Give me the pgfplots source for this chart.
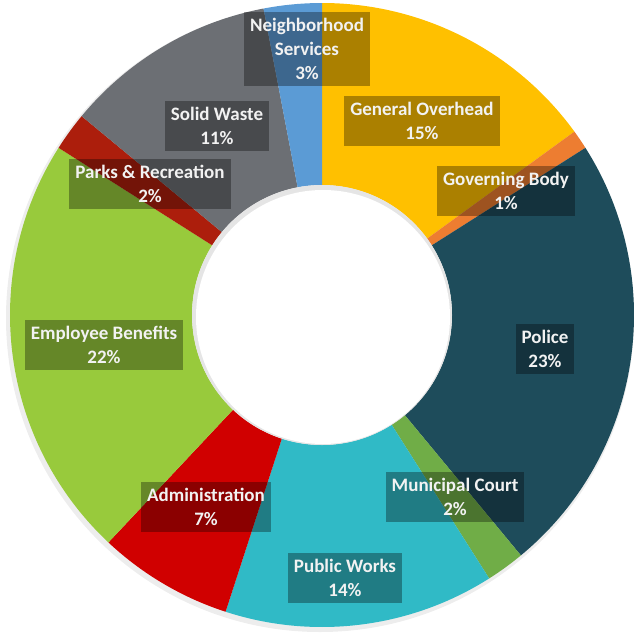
\documentclass[border=0pt]{standalone}
\usepackage{pgfplots}
\pgfplotsset{compat=1.18}
\usepackage{pgfplotstable}
\usepackage{fontspec}
\setmainfont{Carlito}

% slice colours, clockwise from 12 o'clock
\definecolor{slice0}{HTML}{FFC000}
\definecolor{slice1}{HTML}{ED7D31}
\definecolor{slice2}{HTML}{1E4C5B}
\definecolor{slice3}{HTML}{70AD47}
\definecolor{slice4}{HTML}{30BAC6}
\definecolor{slice5}{HTML}{D00000}
\definecolor{slice6}{HTML}{98CA3C}
\definecolor{slice7}{HTML}{AC1E0C}
\definecolor{slice8}{HTML}{6C6F74}
\definecolor{slice9}{HTML}{5B9BD5}

\tikzset{lbl/.style={fill=black, fill opacity=0.33, text opacity=1, text=white!95!black,
    font=\bfseries\fontsize{19}{24}\selectfont, align=center,
    inner xsep=6pt, inner ysep=6pt}}

% share of the budget, label position (picture pixels, y downwards)
\pgfplotstableread[col sep=comma]{
name,value,lx,ly
General Overhead,15,422,121
Governing Body,1,506,191
Police,23,545,349
Municipal Court,2,455,497
Public Works,14,345,578
Administration,7,206,507
Employee Benefits,22,104,345
Parks \& Recreation,2,150,184
Solid Waste,11,217,126
{Neighborhood\\Services},3,307,49
}\budget

\newcommand\cx{322}
\newcommand\cy{315}
\newcommand\Ro{312}
\newcommand\Ri{130}

% cumulative angles of the slices
\def\cumul{0}
\pgfplotsforeachungrouped \i in {0,...,9}{%
  \pgfplotstablegetelem{\i}{value}\of\budget
  \let\val\pgfplotsretval
  \pgfmathsetmacro\angS{90-3.6*\cumul}%
  \pgfmathsetmacro\cumul{\cumul+\val}%
  \pgfmathsetmacro\angE{90-3.6*\cumul}%
  \pgfmathsetmacro\oxs{\cx+\Ro*cos(\angS)}%
  \pgfmathsetmacro\oys{\cy-\Ro*sin(\angS)}%
  \pgfmathsetmacro\ixe{\cx+\Ri*cos(\angE)}%
  \pgfmathsetmacro\iye{\cy-\Ri*sin(\angE)}%
  \expandafter\xdef\csname s\i\endcsname{\angS}%
  \expandafter\xdef\csname e\i\endcsname{\angE}%
  \expandafter\xdef\csname ox\i\endcsname{\oxs}%
  \expandafter\xdef\csname oy\i\endcsname{\oys}%
  \expandafter\xdef\csname ix\i\endcsname{\ixe}%
  \expandafter\xdef\csname iy\i\endcsname{\iye}%
  \expandafter\xdef\csname v\i\endcsname{\val}%
  \pgfplotstablegetelem{\i}{name}\of\budget
  \expandafter\global\expandafter\let\csname n\i\endcsname\pgfplotsretval
  \pgfplotstablegetelem{\i}{lx}\of\budget
  \expandafter\xdef\csname lx\i\endcsname{\pgfplotsretval}%
  \pgfplotstablegetelem{\i}{ly}\of\budget
  \expandafter\xdef\csname ly\i\endcsname{\pgfplotsretval}%
}

\begin{document}
\begin{tikzpicture}
  \begin{axis}[
    scale only axis,
    width=637pt, height=632pt,
    xmin=0, xmax=637, ymin=0, ymax=632,
    y dir=reverse,
    hide axis,
    clip=false,
    ]
    \coordinate (BL) at (rel axis cs:0,0);
    \coordinate (TR) at (rel axis cs:1,1);
    % soft shadow round the ring
    \fill[black!7] (axis cs:\cx-2,\cy+3) circle[radius=314pt];
    \pgfplotsinvokeforeach{0,...,9}{
      \fill[slice#1]
        (axis cs:\csname ox#1\endcsname,\csname oy#1\endcsname)
        arc[start angle=\csname s#1\endcsname, end angle=\csname e#1\endcsname, radius=\Ro pt]
        -- (axis cs:\csname ix#1\endcsname,\csname iy#1\endcsname)
        arc[start angle=\csname e#1\endcsname, end angle=\csname s#1\endcsname, radius=\Ri pt]
        -- cycle;
    }
    \fill[black!10] (axis cs:\cx,\cy) circle[radius=\Ri pt];
    \fill[white] (axis cs:\cx+1,\cy+2) circle[radius=\Ri pt - 3pt];
    \pgfplotsinvokeforeach{0,...,9}{
      \node[lbl] at (axis cs:\csname lx#1\endcsname,\csname ly#1\endcsname)
        {\csname n#1\endcsname\\\csname v#1\endcsname\%};
    }
  \end{axis}
  \pgfresetboundingbox
  \useasboundingbox (BL) rectangle (TR);
\end{tikzpicture}
\end{document}
